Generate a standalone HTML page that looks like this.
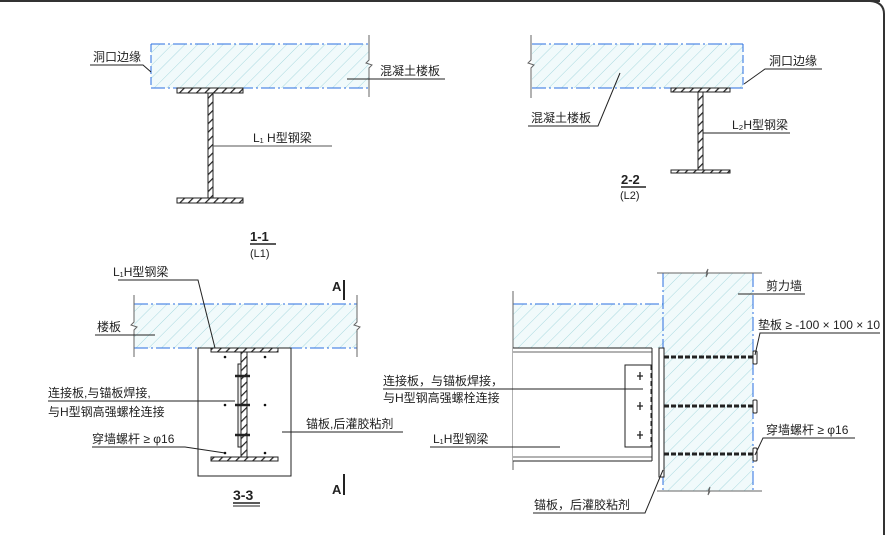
<!DOCTYPE html>
<html><head><meta charset="utf-8"><style>
html,body{margin:0;padding:0;background:#fff;}
svg{display:block;}
text{font-family:"Liberation Sans","Noto Sans CJK SC",sans-serif;font-size:12px;fill:#222;}
</style></head><body>
<svg width="887" height="535" viewBox="0 0 887 535" xmlns="http://www.w3.org/2000/svg">
<defs>
<pattern id="h" width="9" height="9" patternUnits="userSpaceOnUse" patternTransform="rotate(45)">
<rect width="9" height="9" fill="#f1fafb"/>
<line x1="0" y1="0" x2="0" y2="9" stroke="#a9d9df" stroke-width="1"/>
</pattern>
<pattern id="st" width="6" height="6" patternUnits="userSpaceOnUse" patternTransform="rotate(45)">
<rect width="6" height="6" fill="#fff"/>
<line x1="0" y1="0" x2="0" y2="6" stroke="#222" stroke-width="2.5"/>
</pattern>
</defs>
<line x1="0" y1="1" x2="880" y2="1" stroke="#333" stroke-width="2"/>
<path d="M870 1 Q884 2 884 14 L884 535" fill="none" stroke="#333" stroke-width="2"/>

<g stroke="#222" stroke-width="1" fill="none">
<!-- 1-1 -->
<rect x="151" y="44" width="218" height="44" fill="url(#h)" stroke="none"/>
<line x1="151" y1="44" x2="369" y2="44" stroke="#2a6fe0" stroke-dasharray="14,3,2,3"/>
<line x1="151" y1="88" x2="369" y2="88" stroke="#2a6fe0" stroke-dasharray="14,3,2,3"/>
<line x1="151" y1="44" x2="151" y2="88" stroke="#2a6fe0" stroke-dasharray="8,3"/>
<path d="M369 35 V60 l-3 3 l6 2 l-3 3 V97" stroke="#666"/>
<rect x="177" y="88" width="66" height="5" fill="url(#st)"/>
<rect x="208" y="93" width="5" height="105" fill="url(#st)"/>
<rect x="177" y="198" width="66" height="5" fill="url(#st)"/>
<path d="M90 65 H143 L151 72"/>
<line x1="347" y1="79" x2="445" y2="79"/>
<line x1="213" y1="146" x2="332" y2="146" stroke="#555"/>
<line x1="250" y1="244" x2="276" y2="244" stroke-width="1.5"/>

<!-- 2-2 -->
<rect x="532" y="44" width="211" height="44" fill="url(#h)" stroke="none"/>
<line x1="532" y1="44" x2="743" y2="44" stroke="#2a6fe0" stroke-dasharray="14,3,2,3"/>
<line x1="532" y1="88" x2="743" y2="88" stroke="#2a6fe0" stroke-dasharray="14,3,2,3"/>
<line x1="743" y1="44" x2="743" y2="88" stroke="#2a6fe0" stroke-dasharray="8,3"/>
<path d="M531 35 V60 l-3 3 l6 2 l-3 3 V98" stroke="#666"/>
<rect x="671" y="88" width="59" height="4" fill="url(#st)"/>
<rect x="698" y="92" width="5" height="78" fill="url(#st)"/>
<rect x="671" y="170" width="59" height="3" fill="url(#st)"/>
<path d="M822 69 H765 L744 84"/>
<path d="M528 126 H598 L620 73"/>
<line x1="703" y1="133" x2="790" y2="133"/>
<line x1="621" y1="187" x2="646" y2="187" stroke-width="1.5"/>

<!-- 3-3 -->
<rect x="134" y="304" width="223" height="44" fill="url(#h)" stroke="none"/>
<line x1="134" y1="304" x2="357" y2="304" stroke="#2a6fe0" stroke-dasharray="14,3,2,3"/>
<line x1="134" y1="348" x2="357" y2="348" stroke="#2a6fe0" stroke-dasharray="14,3,2,3"/>
<path d="M134 295 V322 l-3 3 l6 2 l-3 3 V357" stroke="#666"/>
<path d="M357 295 V322 l-3 3 l6 2 l-3 3 V357" stroke="#666"/>
<rect x="198" y="348" width="93" height="128" fill="#fff"/>
<rect x="211" y="348" width="67" height="4" fill="url(#st)"/>
<rect x="241" y="352" width="6" height="105" fill="url(#st)"/>
<rect x="211" y="457" width="67" height="4" fill="url(#st)"/>
<rect x="238" y="364" width="3" height="83" fill="#eee"/>
<g stroke-width="2.5"><line x1="235" y1="376" x2="250" y2="376"/><line x1="235" y1="405" x2="250" y2="405"/><line x1="235" y1="435" x2="250" y2="435"/></g>
<path d="M118 280 H198 L215 348"/>
<line x1="95" y1="335" x2="155" y2="335"/>
<line x1="48" y1="401" x2="235" y2="401"/>
<path d="M92 447 H185 L225 453"/>
<line x1="282" y1="432" x2="403" y2="432"/>
<line x1="344" y1="280" x2="344" y2="300" stroke-width="2"/>
<line x1="344" y1="474" x2="344" y2="495" stroke-width="2"/>
<line x1="233" y1="503" x2="260" y2="503" stroke-width="1.5"/>
<line x1="233" y1="506" x2="260" y2="506" stroke-width="1"/>

<!-- right detail -->
<path d="M513 304 H663 V273 H753 V491 H663 V348 H513 Z" fill="url(#h)" stroke="none"/>
<line x1="513" y1="304" x2="663" y2="304" stroke="#2a6fe0" stroke-dasharray="14,3,2,3"/>
<line x1="663" y1="273" x2="663" y2="491" stroke="#2a6fe0" stroke-dasharray="14,3,2,3"/>
<line x1="753" y1="273" x2="753" y2="491" stroke="#2a6fe0" stroke-dasharray="14,3,2,3"/>
<path d="M657 273 H706 l2 -4 l-2 8 l2 -4 H762" stroke="#666"/>
<path d="M657 491 H708 l2 -4 l-2 8 l2 -4 H762" stroke="#666"/>
<line x1="513" y1="291" x2="513" y2="470" stroke="#666"/>
<rect x="513" y="348" width="139" height="113" fill="#fff" stroke="none"/>
<line x1="513" y1="348" x2="652" y2="348"/>
<line x1="513" y1="352" x2="652" y2="352" stroke="#666"/>
<line x1="513" y1="457" x2="652" y2="457" stroke="#666"/>
<line x1="513" y1="461" x2="652" y2="461"/>
<line x1="652" y1="348" x2="652" y2="461"/>
<rect x="659" y="348" width="5" height="129" fill="#fff"/>
<rect x="625" y="365" width="27" height="82" fill="#fff"/>
<line x1="651" y1="365" x2="651" y2="447" stroke-dasharray="5,3"/>
<g stroke-width="3" stroke-dasharray="5,2">
<line x1="664" y1="357" x2="753" y2="357"/><line x1="664" y1="406" x2="753" y2="406"/><line x1="664" y1="454" x2="753" y2="454"/>
</g>
<g fill="#fff"><rect x="753" y="351" width="4" height="13" rx="1"/><rect x="753" y="400" width="4" height="13" rx="1"/><rect x="753" y="448" width="4" height="13" rx="1"/></g>
<g stroke-width="1.3"><path d="M640 372 v8 M637 376 h6"/><path d="M640 402 v8 M637 406 h6"/><path d="M640 431 v8 M637 435 h6"/></g>
<line x1="738" y1="294" x2="805" y2="294"/>
<path d="M880 333 H760 L755 355"/>
<line x1="383" y1="389" x2="643" y2="389"/>
<line x1="430" y1="447" x2="560" y2="447"/>
<path d="M855 438 H763 L755 455"/>
<path d="M533 513 H645 L663 470"/>
</g>
<g fill="#111">
<circle cx="225" cy="357" r="1.3"/><circle cx="265" cy="357" r="1.3"/><circle cx="225" cy="405" r="1.3"/><circle cx="265" cy="405" r="1.3"/><circle cx="225" cy="453" r="1.3"/><circle cx="265" cy="453" r="1.3"/>
</g>

<text x="93" y="61">洞口边缘</text>
<text x="380" y="75">混凝土楼板</text>
<text x="253" y="142">L₁ H型钢梁</text>
<text x="250" y="241" style="font-size:13px;font-weight:bold">1-1</text>
<text x="250" y="257" style="font-size:11px">(L1)</text>

<text x="769" y="65">洞口边缘</text>
<text x="531" y="122">混凝土楼板</text>
<text x="732" y="129">L₂H型钢梁</text>
<text x="621" y="184" style="font-size:13px;font-weight:bold">2-2</text>
<text x="620" y="199" style="font-size:11px">(L2)</text>

<text x="113" y="276">L₁H型钢梁</text>
<text x="97" y="331">楼板</text>
<text x="48" y="397">连接板,与锚板焊接,</text>
<text x="48" y="416">与H型钢高强螺栓连接</text>
<text x="92" y="443">穿墙螺杆 ≥ φ16</text>
<text x="306" y="428">锚板,后灌胶粘剂</text>
<text x="332" y="291" style="font-size:13px;font-weight:bold">A</text>
<text x="332" y="494" style="font-size:13px;font-weight:bold">A</text>
<text x="233" y="500" style="font-size:14px;font-weight:bold">3-3</text>

<text x="766" y="290">剪力墙</text>
<text x="758" y="329">垫板 ≥ -100 × 100 × 10</text>
<text x="383" y="385">连接板，与锚板焊接，</text>
<text x="383" y="402">与H型钢高强螺栓连接</text>
<text x="433" y="443">L₁H型钢梁</text>
<text x="766" y="434">穿墙螺杆 ≥ φ16</text>
<text x="534" y="509">锚板，后灌胶粘剂</text>
</svg>
</body></html>
